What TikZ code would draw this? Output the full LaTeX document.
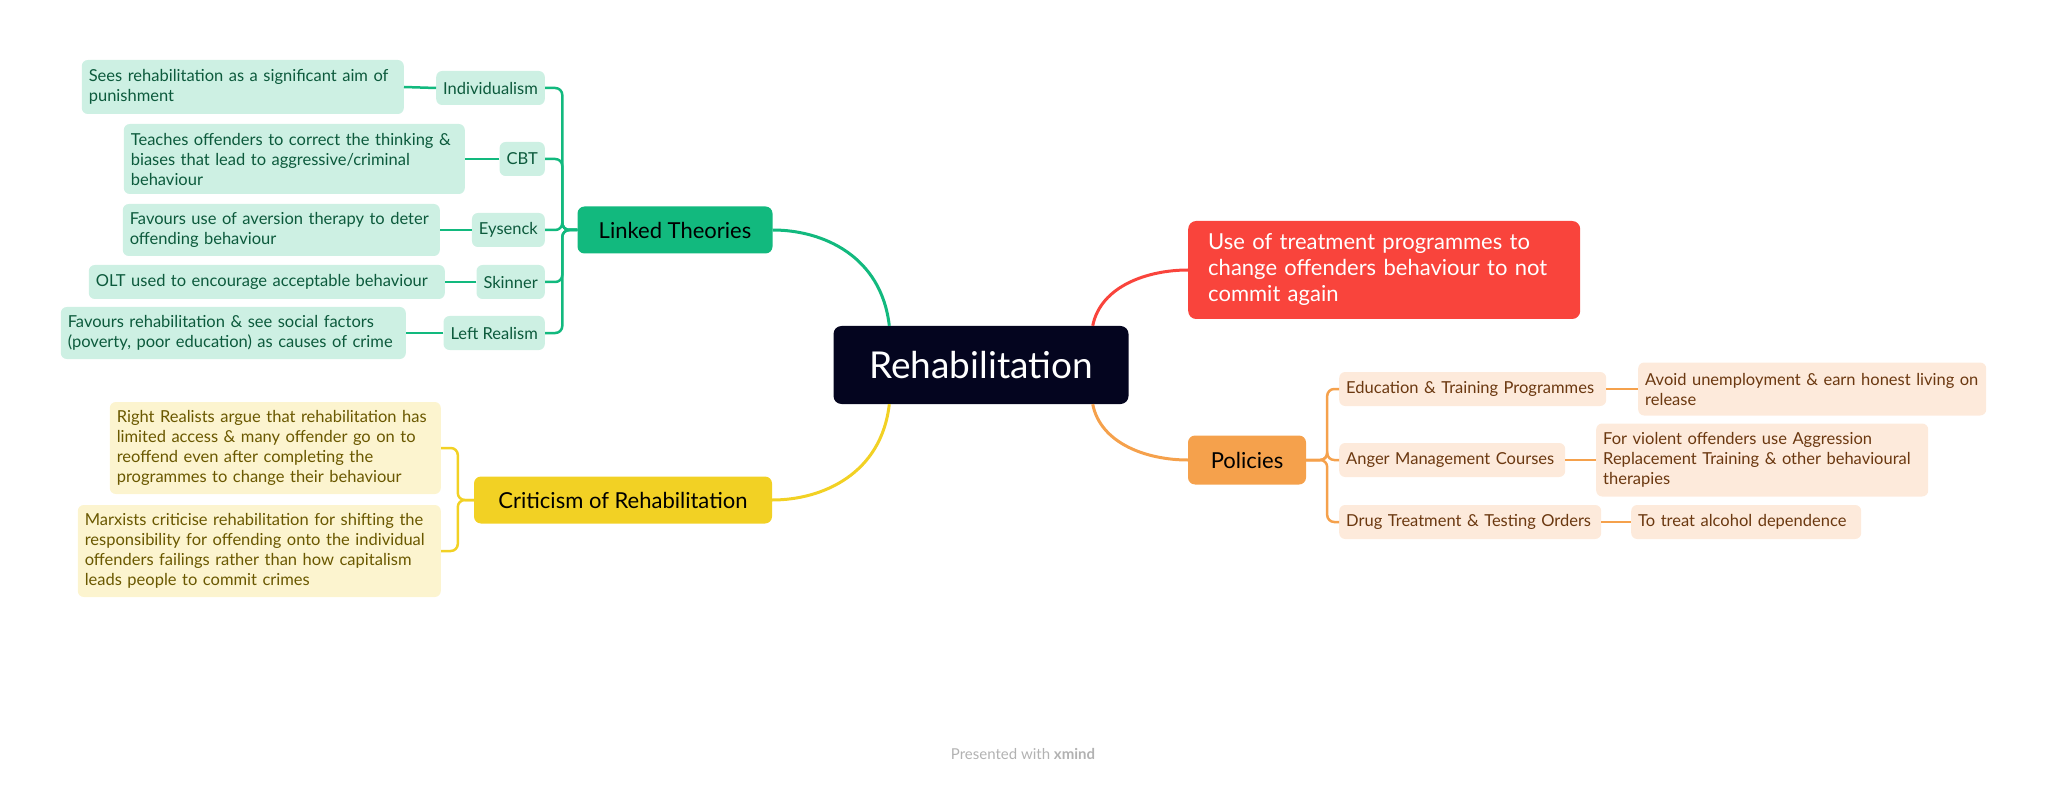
\documentclass[tikz,border=0pt]{standalone}
\usepackage{fontspec}
\setmainfont{Lato}
\begin{document}
\definecolor{gr}{HTML}{12B97E}\definecolor{grl}{HTML}{CDF0E3}\definecolor{grt}{HTML}{0C5A3C}
\definecolor{ye}{HTML}{F2D124}\definecolor{yel}{HTML}{FCF4CF}\definecolor{yet}{HTML}{6A5800}
\definecolor{or}{HTML}{F5A14C}\definecolor{orl}{HTML}{FDEADB}\definecolor{ort}{HTML}{6B3810}
\definecolor{rd}{HTML}{F9443C}\definecolor{dk}{HTML}{04051F}
\begin{tikzpicture}[x=1pt,y=-1pt,
 box/.style={rounded corners=6pt,inner xsep=7pt,inner ysep=5pt,align=left,minimum height=34pt,font=\fontsize{16.5}{20}\selectfont},
 gbox/.style={box,fill=grl,text=grt}, ybox/.style={box,fill=yel,text=yet}, obox/.style={box,fill=orl,text=ort},
 gl/.style={draw=gr,line width=2.5pt,rounded corners=7pt},
 yl/.style={draw=ye,line width=2.5pt,rounded corners=7pt},
 ol/.style={draw=or,line width=2.5pt,rounded corners=7pt},
 main/.style={rounded corners=7pt,font=\fontsize{22}{26}\selectfont,inner xsep=14pt,minimum height=47pt}]
\useasboundingbox (0,0) rectangle (2048,786);
\node[fill=dk,text=white,rounded corners=8pt,minimum width=295pt,minimum height=78pt,font=\fontsize{37}{40}\selectfont] (c) at (981,365) {Rehabilitation};
\node[main,fill=gr,text=black,minimum width=195pt] (lt) at (675,230) {Linked Theories};
\node[main,fill=ye,text=black,minimum width=298pt] (cr) at (623,500) {Criticism of Rehabilitation};
\node[main,fill=or,text=black,minimum width=118pt,minimum height=49pt] (po) at (1247,460) {Policies};
\node[fill=rd,text=white,rounded corners=8pt,align=left,anchor=west,text width=352pt,minimum height=98pt,inner xsep=20pt,font=\fontsize{22}{26}\selectfont] (rd) at (1188,270) {Use of treatment programmes to\\change offenders behaviour to not\\commit again};
% linked children
\node[gbox,anchor=east] (ind) at (545,88) {Individualism};
\node[gbox,anchor=east] (cbt) at (545,159) {CBT};
\node[gbox,anchor=east] (eys) at (545,230) {Eysenck};
\node[gbox,anchor=east] (ski) at (545,282) {Skinner};
\node[gbox,anchor=east] (lr) at (545,333) {Left Realism};
\node[gbox,anchor=east,text width=308pt,minimum height=54pt] (l1) at (404,87) {Sees rehabilitation as a significant aim of\\punishment};
\node[gbox,anchor=east,text width=327pt,minimum height=70pt] (l2) at (465,159) {Teaches offenders to correct the thinking \&\\biases that lead to aggressive/criminal\\behaviour};
\node[gbox,anchor=east,text width=303pt,minimum height=52pt] (l3) at (440,230) {Favours use of aversion therapy to deter\\offending behaviour};
\node[gbox,anchor=east,text width=342pt] (l4) at (445,282) {OLT used to encourage acceptable behaviour};
\node[gbox,anchor=east,text width=331pt,minimum height=52pt] (l5) at (406,333) {Favours rehabilitation \& see social factors\\(poverty, poor education) as causes of crime};
% criticism
\node[ybox,anchor=east,text width=317pt,minimum height=92pt] (rr) at (441,448) {Right Realists argue that rehabilitation has\\limited access \& many offender go on to\\reoffend even after completing the\\programmes to change their behaviour};
\node[ybox,anchor=east,text width=349pt,minimum height=92pt] (mx) at (441,551) {Marxists criticise rehabilitation for shifting the\\responsibility for offending onto the individual\\offenders failings rather than how capitalism\\leads people to commit crimes};
% policies
\node[obox,anchor=west,text width=253pt] (edu) at (1339,389) {Education \& Training Programmes};
\node[obox,anchor=west,text width=212pt] (ang) at (1339,460) {Anger Management Courses};
\node[obox,anchor=west,text width=248pt] (drg) at (1339,522) {Drug Treatment \& Testing Orders};
\node[obox,anchor=west,text width=334pt,minimum height=53pt] (p1) at (1638,389) {Avoid unemployment \& earn honest living on\\release};
\node[obox,anchor=west,text width=318pt,minimum height=73pt] (p2) at (1596,460) {For violent offenders use Aggression\\Replacement Training \& other behavioural\\therapies};
\node[obox,anchor=west,text width=216pt] (p3) at (1631,522) {To treat alcohol dependence};
% main connectors
\draw[gr,line width=3pt] ([xshift=56pt]c.north west) .. controls +(-8,-70) and +(50,0) .. (lt.east);
\draw[ye,line width=3pt] ([xshift=56pt]c.south west) .. controls +(-8,70) and +(50,0) .. (cr.east);
\draw[rd,line width=3pt] ([xshift=-36pt]c.north east) .. controls +(8,-40) and +(-40,0) .. (rd.west);
\draw[or,line width=3pt] ([xshift=-36pt]c.south east) .. controls +(8,40) and +(-40,0) .. (po.west);
% brackets
\foreach \n in {ind,cbt,eys,ski,lr}{\draw[gl] (lt.west) -- ++(-15,0) |- (\n.east);}
\foreach \a/\b in {ind/l1,cbt/l2,eys/l3,ski/l4,lr/l5}{\draw[gr,line width=2.5pt] (\a.west) -- (\b.east);}
\foreach \n in {rr,mx}{\draw[yl] (cr.west) -- ++(-16,0) |- (\n.east);}
\foreach \n in {edu,ang,drg}{\draw[ol] (po.east) -- ++(21,0) |- (\n.west);}
\foreach \a/\b in {edu/p1,ang/p2,drg/p3}{\draw[or,line width=2.5pt] (\a.east) -- (\b.west);}
\node[text=black!30,font=\fontsize{15}{16}\selectfont] (ft) at (1023,754) {Presented with \textbf{xmind}};
\end{tikzpicture}
\end{document}
